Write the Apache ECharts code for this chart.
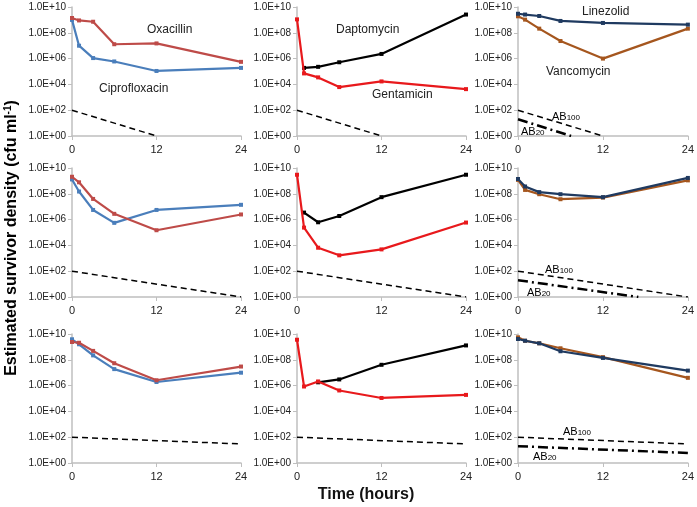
<!DOCTYPE html>
<html><head><meta charset="utf-8">
<script src="https://cdn.jsdelivr.net/npm/echarts@6/dist/echarts.min.js"></script>
<style>html,body{margin:0;padding:0;background:#fff}#c{width:697px;height:507px}</style>
</head><body><div id="c"></div>
<script>
const times = [0, 1, 3, 6, 12, 24];
const yTicks = [1, 1e2, 1e4, 1e6, 1e8, 1e10];
// Row 1
const a_oxacillin = [1.4e9, 9.1e8, 7.2e8, 1.3e7, 1.5e7, 5.6e5];
const a_cipro     = [1.0e9, 1.0e7, 1.1e6, 6.0e5, 1.1e5, 1.9e5];
const b_gent      = [1.1e9, 7.1e4, 3.5e4, 6.2e3, 1.7e4, 4.3e3];
const b_dapto     = [null, 1.9e5, 2.3e5, 5.2e5, 2.3e6, 2.6e9];
const c_linez     = [3.0e9, 2.6e9, 2.0e9, 8.3e8, 5.8e8, 4.3e8];
const c_vanco     = [1.9e9, 1.05e9, 2.1e8, 2.3e7, 1.0e6, 2.1e8];
// Row 2
const d_oxacillin = [2.1e9, 7.8e8, 4.0e7, 2.8e6, 1.5e5, 2.5e6];
const d_cipro     = [1.3e9, 1.5e8, 5.6e6, 5.6e5, 5.6e6, 1.4e7];
const e_gent      = [3.0e9, 2.4e5, 6.6e3, 1.7e3, 4.9e3, 5.9e5];
const e_dapto     = [null, 3.5e6, 6.2e5, 1.9e6, 5.5e7, 3.0e9];
const f_linez     = [1.4e9, 3.7e8, 1.35e8, 9.3e7, 5.5e7, 1.7e9];
const f_vanco     = [1.2e9, 2.0e8, 9.3e7, 3.8e7, 5.1e7, 1.1e9];
// Row 3
const g_oxacillin = [2.4e9, 2.1e9, 4.9e8, 5.4e7, 2.6e6, 3.0e7];
const g_cipro     = [3.9e9, 1.6e9, 2.2e8, 1.9e7, 1.9e6, 1.0e7];
const h_gent      = [3.6e9, 8.5e5, 2.1e6, 4.2e5, 1.1e5, 1.9e5];
const h_dapto     = [null, null, 1.8e6, 3.0e6, 4.1e7, 1.3e9];
const i_linez     = [4.1e9, 3.0e9, 1.9e9, 4.6e8, 1.4e8, 1.45e7];
const i_vanco     = [5.5e9, 3.0e9, 1.9e9, 7.8e8, 1.6e8, 4.0e6];
// Reference lines (AB100 / AB20) as [time, value]
const row1_ab100 = [[0, 100], [12, 1]];
const row2_ab100 = [[0, 100], [24, 1]];
const row3_ab100 = [[0, 100], [24, 30]];
const row1_ab20  = [[0, 20], [7.5, 1]];
const row2_ab20  = [[0, 20], [17, 1]];
const row3_ab20  = [[0, 20], [24, 6]];

const COL = {cipro:'#4a7ebb', oxa:'#be4b48', gent:'#e8191c', dapto:'#000000', linez:'#1f3a60', vanco:'#a5561e'};

const lefts = [72, 297, 518], widths = [169, 169, 170], tops = [7, 168, 334], H = 129;
const grid = [], xAxis = [], yAxis = [], series = [];
const FONT = 'Liberation Sans, Arial, sans-serif';
for (let r = 0; r < 3; r++) for (let c = 0; c < 3; c++) {
  const i = r * 3 + c;
  grid.push({left: lefts[c], top: tops[r], width: widths[c], height: H});
  xAxis.push({type: 'value', gridIndex: i, min: 0, max: 24, interval: 12,
    axisLine: {lineStyle: {color: '#bfbfbf', width: 1.5}},
    axisTick: {show: true, length: 4, lineStyle: {color: '#bfbfbf'}},
    axisLabel: {fontSize: 11, color: '#222', fontFamily: FONT, margin: 8},
    splitLine: {show: false}});
  yAxis.push({type: 'log', logBase: 10, gridIndex: i, min: 1, max: 1e10,
    axisLine: {show: true, lineStyle: {color: '#bfbfbf', width: 1.5}},
    axisTick: {show: true, length: 4, customValues: yTicks, lineStyle: {color: '#bfbfbf'}},
    axisLabel: {fontSize: 10, color: '#222', fontFamily: FONT, margin: 6, customValues: yTicks,
      formatter: v => '1.0E+' + String(Math.round(Math.log10(v))).padStart(2, '0')},
    splitLine: {show: false}, minorTick: {show: false}});
}
function pair(arr) { return times.map((t, k) => arr[k] == null ? null : [t, arr[k]]).filter(p => p); }
function dataLine(idx, arr, color, z) {
  series.push({type: 'line', xAxisIndex: idx, yAxisIndex: idx, data: pair(arr), z: z || 2,
    symbol: 'rect', symbolSize: 4, showSymbol: true, animation: false,
    lineStyle: {color: color, width: 2.2}, itemStyle: {color: color}});
}
function refLine(idx, pts, dash, width) {
  series.push({type: 'line', xAxisIndex: idx, yAxisIndex: idx, data: pts, symbol: 'none', animation: false,
    lineStyle: {color: '#000', width: width, type: dash}});
}
// Row 1
dataLine(0, a_cipro, COL.cipro); dataLine(0, a_oxacillin, COL.oxa, 3); refLine(0, row1_ab100, [6, 4], 1.5);
dataLine(1, b_dapto, COL.dapto); dataLine(1, b_gent, COL.gent, 3); refLine(1, row1_ab100, [6, 4], 1.5);
dataLine(2, c_vanco, COL.vanco); dataLine(2, c_linez, COL.linez, 3); refLine(2, row1_ab100, [6, 4], 1.5); refLine(2, row1_ab20, [10, 4, 2, 4], 2.5);
// Row 2
dataLine(3, d_cipro, COL.cipro); dataLine(3, d_oxacillin, COL.oxa, 3); refLine(3, row2_ab100, [6, 4], 1.5);
dataLine(4, e_dapto, COL.dapto); dataLine(4, e_gent, COL.gent, 3); refLine(4, row2_ab100, [6, 4], 1.5);
dataLine(5, f_vanco, COL.vanco); dataLine(5, f_linez, COL.linez, 3); refLine(5, row2_ab100, [6, 4], 1.5); refLine(5, row2_ab20, [10, 4, 2, 4], 2.5);
// Row 3
dataLine(6, g_cipro, COL.cipro); dataLine(6, g_oxacillin, COL.oxa, 3); refLine(6, row3_ab100, [6, 4], 1.5);
dataLine(7, h_dapto, COL.dapto); dataLine(7, h_gent, COL.gent, 3); refLine(7, row3_ab100, [6, 4], 1.5);
dataLine(8, i_vanco, COL.vanco); dataLine(8, i_linez, COL.linez, 3); refLine(8, row3_ab100, [6, 4], 1.5); refLine(8, row3_ab20, [10, 4, 2, 4], 2.5);

const rich = {b: {fontSize: 11, fontFamily: FONT, color: '#222', lineHeight: 14, verticalAlign: 'bottom'},
              s: {fontSize: 8, fontFamily: FONT, color: '#222', lineHeight: 10, verticalAlign: 'bottom'}};
function lab(x, y, t) { return {type: 'text', x: x, y: y, style: {text: t, font: '12px ' + FONT, fill: '#222', align: 'left', verticalAlign: 'middle'}}; }
function ab(x, y, n) { return {type: 'text', x: x, y: y, style: {text: '{b|AB}{s|' + n + '}', rich: rich, align: 'left', verticalAlign: 'middle'}}; }
const graphic = [
  lab(147, 30, 'Oxacillin'), lab(99, 89, 'Ciprofloxacin'),
  lab(336, 30, 'Daptomycin'), lab(372, 95, 'Gentamicin'),
  lab(582, 12, 'Linezolid'), lab(546, 72, 'Vancomycin'),
  ab(552, 115, '100'), ab(521, 130, '20'),
  ab(545, 268, '100'), ab(527, 291, '20'),
  ab(563, 430, '100'), ab(533, 455, '20'),
  {type: 'text', x: 13, y: 238, rotation: Math.PI / 2,
   style: {text: '{t|Estimated survivor density (cfu ml}{p|-1}{t|)}', align: 'center', verticalAlign: 'middle',
     rich: {t: {fontSize: 16, fontWeight: 'bold', fontFamily: FONT, color: '#111', lineHeight: 19, verticalAlign: 'top'},
            p: {fontSize: 10, fontWeight: 'bold', fontFamily: FONT, color: '#111', lineHeight: 19, verticalAlign: 'top'}}}},
  {type: 'text', x: 366, y: 495, style: {text: 'Time (hours)', font: 'bold 16px ' + FONT, fill: '#111', align: 'center', verticalAlign: 'middle'}}
];
const chart = echarts.init(document.getElementById('c'), null, {renderer: 'canvas'});
chart.setOption({animation: false, backgroundColor: '#fff', grid, xAxis, yAxis, series, graphic});
</script></body></html>
